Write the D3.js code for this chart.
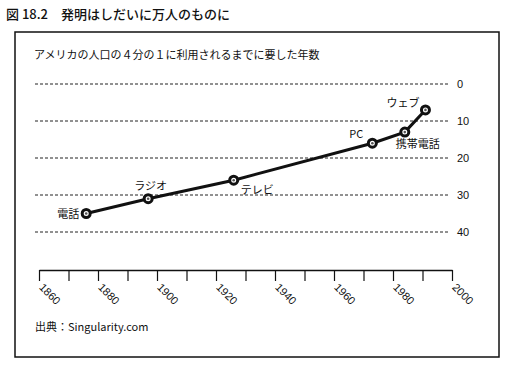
<!DOCTYPE html>
<html><head><meta charset="utf-8">
<script src="https://cdn.jsdelivr.net/npm/d3@7/dist/d3.min.js"></script>
<style>body{margin:0;background:#fff}svg{display:block}text{font-family:"Noto Sans CJK JP","Noto Sans",sans-serif;fill:#111}</style>
</head><body><svg id="c" width="512" height="370"></svg>
<script>
const inventions = ["電話","ラジオ","テレビ","PC","携帯電話","ウェブ"];
const years = [1876, 1897, 1926, 1973, 1984, 1991];
const yearsToQuarter = [35, 31, 26, 16, 13, 7];
const yTicks = [0, 10, 20, 30, 40];
const xTickLabels = [1860, 1880, 1900, 1920, 1940, 1960, 1980, 2000];
const xMinorTicks = d3.range(1860, 2001, 10);

const svg = d3.select("#c");
const x = d3.scaleLinear().domain([1860, 2000]).range([39, 452]);
const y = d3.scaleLinear().domain([0, 40]).range([84, 232]);

// frame
svg.append("rect").attr("x",15).attr("y",32).attr("width",484).attr("height",325)
  .attr("fill","none").attr("stroke","#111").attr("stroke-width",1.5);

svg.append("text").attr("x",6).attr("y",19).attr("font-size",13).attr("font-weight",500).text("図 18.2　発明はしだいに万人のものに");
svg.append("text").attr("x",34).attr("y",59).attr("font-size",11).text("アメリカの人口の４分の１に利用されるまでに要した年数");

// grid
const yAxis = d3.axisRight(y).tickValues(yTicks).tickSize(0).tickPadding(0);
const gy = svg.append("g").attr("transform","translate(453,0)").call(yAxis);
gy.select(".domain").remove();
gy.selectAll("text").attr("font-size",11).attr("x",4).style("font-family","Liberation Sans, Arial, sans-serif");
svg.append("g").selectAll("line").data(yTicks).join("line")
  .attr("x1",35).attr("x2",450).attr("y1",d=>y(d)).attr("y2",d=>y(d))
  .attr("stroke","#222").attr("stroke-width",1).attr("stroke-dasharray","3,2");

// x axis
const xAxis = d3.axisBottom(x).tickValues(xMinorTicks).tickSize(11).tickSizeOuter(0)
  .tickFormat(d => xTickLabels.includes(d) ? d : "");
const gx = svg.append("g").attr("transform","translate(0,270)").call(xAxis);
gx.select(".domain").attr("stroke","#111").attr("stroke-width",1.5);
gx.selectAll(".tick line").attr("stroke","#111").attr("stroke-width",1.2);
gx.selectAll(".tick text").attr("font-size",11)
  .style("font-family","Liberation Sans, Arial, sans-serif")
  .attr("text-anchor","start").attr("dy",0).attr("y",0)
  .attr("transform","translate(-1,18) rotate(45)");

// line
const pts = years.map((yr,i)=>({yr, v: yearsToQuarter[i], name: inventions[i]}));
svg.append("path").datum(pts)
  .attr("d", d3.line().x(d=>x(d.yr)).y(d=>y(d.v)))
  .attr("fill","none").attr("stroke","#111").attr("stroke-width",3);
const mk = svg.append("g").selectAll("g").data(pts).join("g")
  .attr("transform", d=>`translate(${x(d.yr)},${y(d.v)})`);
mk.append("circle").attr("r",4).attr("fill","#fff").attr("stroke","#111").attr("stroke-width",3);
mk.append("circle").attr("r",1.3).attr("fill","#555");

// labels
const labelOffsets = [[-29,4],[-14,-9],[7,14],[-23,-5],[-9,16],[-39,-3]];
svg.append("g").selectAll("text").data(pts).join("text")
  .attr("x",(d,i)=>x(d.yr)+labelOffsets[i][0]).attr("y",(d,i)=>y(d.v)+labelOffsets[i][1])
  .attr("font-size",11).text(d=>d.name);

svg.append("text").attr("x",35).attr("y",331).attr("font-size",11).text("出典：Singularity.com");
</script></body></html>
